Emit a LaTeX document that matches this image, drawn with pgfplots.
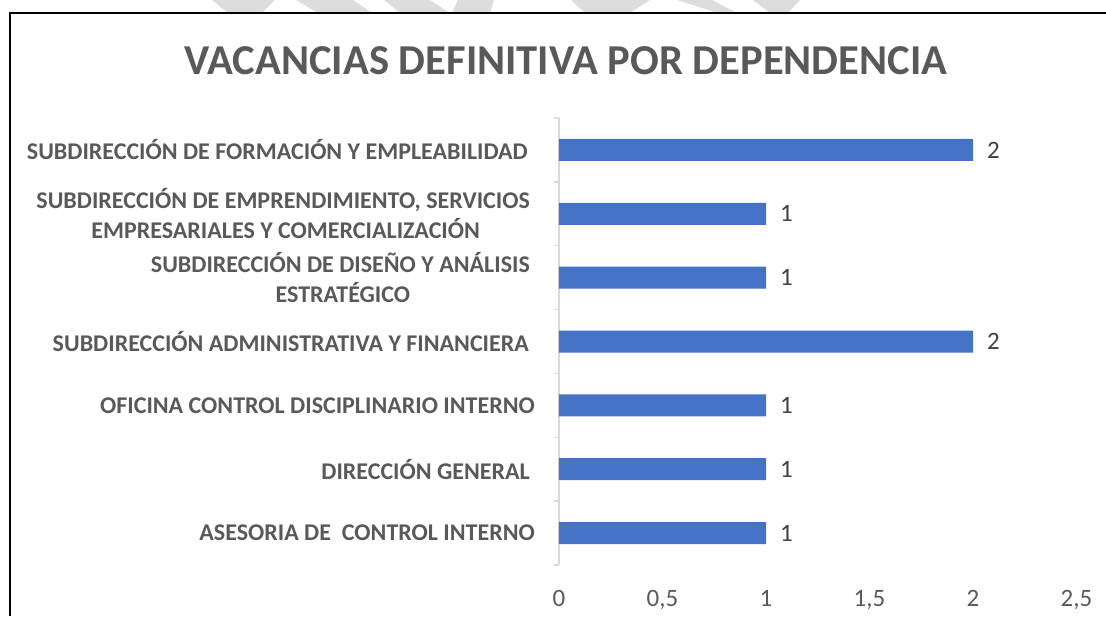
\documentclass[border=0pt]{standalone}
\usepackage{fontspec}
\setmainfont{Carlito}
\usepackage{pgfplots}
\pgfplotsset{compat=1.18}
\definecolor{barc}{HTML}{4472C4}
\definecolor{txt}{HTML}{595959}
\definecolor{dlab}{HTML}{404040}
\definecolor{axl}{HTML}{D9D9D9}
\definecolor{wm}{HTML}{DDDDDD}
\begin{document}
\begin{tikzpicture}[x=1pt,y=1pt]
\useasboundingbox (0,0) rectangle (1106,616);
% watermark bits above the frame
\fill[wm] (212,616) -- (275,616) -- (262,603) -- (228,603) -- cycle;
\fill[wm] (296,616) -- (353,616) -- (372,603) -- (318,603) -- cycle;
\fill[wm] (384,616) -- (430,616) -- (450,603) -- (400,603) -- cycle;
\fill[wm] (458,616) -- (494,616) -- (490,603) -- (452,603) -- cycle;
\fill[wm] (571,616) -- (650,616) -- (630,603) -- (585,603) -- cycle;
\fill[wm] (677,616) -- (712,616) -- (737,603) -- (718,603) -- cycle;
\fill[wm] (753,616) -- (800,616) -- (788,603) -- (770,603) -- cycle;
% frame
\draw[line width=2pt] (10,0) -- (10,603) -- (1106,603);
% title
\node[font=\fontsize{42.6}{50}\selectfont\bfseries, text=txt] at (566,555) {VACANCIAS DEFINITIVA POR DEPENDENCIA};
\begin{axis}[
  at={(559pt,51pt)}, anchor=south west, scale only axis,
  width=517.5pt, height=447pt,
  xbar, bar width=22pt,
  xmin=0, xmax=2.5, ymin=-0.5, ymax=6.5,
  axis y line*=left, axis x line*=bottom,
  x axis line style={draw=none},
  y axis line style={draw=axl, line width=1.5pt, -},
  xtick={0,0.5,1,1.5,2,2.5},
  xticklabels={0,{0,5},1,{1,5},2,{2,5}},
  ytick={0,...,6},
  yticklabels={
    {ASESORIA DE\ \ CONTROL INTERNO},
    {DIRECCIÓN GENERAL\hspace*{5pt}},
    {OFICINA CONTROL DISCIPLINARIO INTERNO},
    {SUBDIRECCIÓN ADMINISTRATIVA Y FINANCIERA\hspace*{6pt}},
    {SUBDIRECCIÓN DE DISEÑO Y ANÁLISIS\hspace*{5pt}\\ESTRATÉGICO},
    {SUBDIRECCIÓN DE EMPRENDIMIENTO, SERVICIOS\hspace*{5pt}\\EMPRESARIALES Y COMERCIALIZACIÓN},
    {SUBDIRECCIÓN DE FORMACIÓN Y EMPLEABILIDAD\hspace*{7pt}}},
  minor ytick={-0.5,0.5,...,6.5},
  major tick length=0pt, minor tick length=5pt, tick align=outside,
  minor tick style={draw=axl, line width=1.5pt},
  major tick style={draw=none},
  xticklabel style={anchor=base, inner sep=0pt, yshift=-41pt, font=\fontsize{25}{29}\selectfont, text=txt},
  yticklabel style={anchor=east, align=center, inner sep=0pt, xshift=-24pt,
    font=\fontsize{24}{30}\selectfont\bfseries, text=txt},
  /pgf/number format/assume math mode=true,
  nodes near coords,
  nodes near coords style={anchor=west, inner sep=0pt, xshift=14pt,
    font=\fontsize{25}{29}\selectfont, text=dlab},
  clip=false,
]
\addplot[fill=barc, draw=none] coordinates {
  (1,0) (1,1) (1,2) (2,3) (1,4) (1,5) (2,6)
};
\end{axis}
\end{tikzpicture}
\end{document}
